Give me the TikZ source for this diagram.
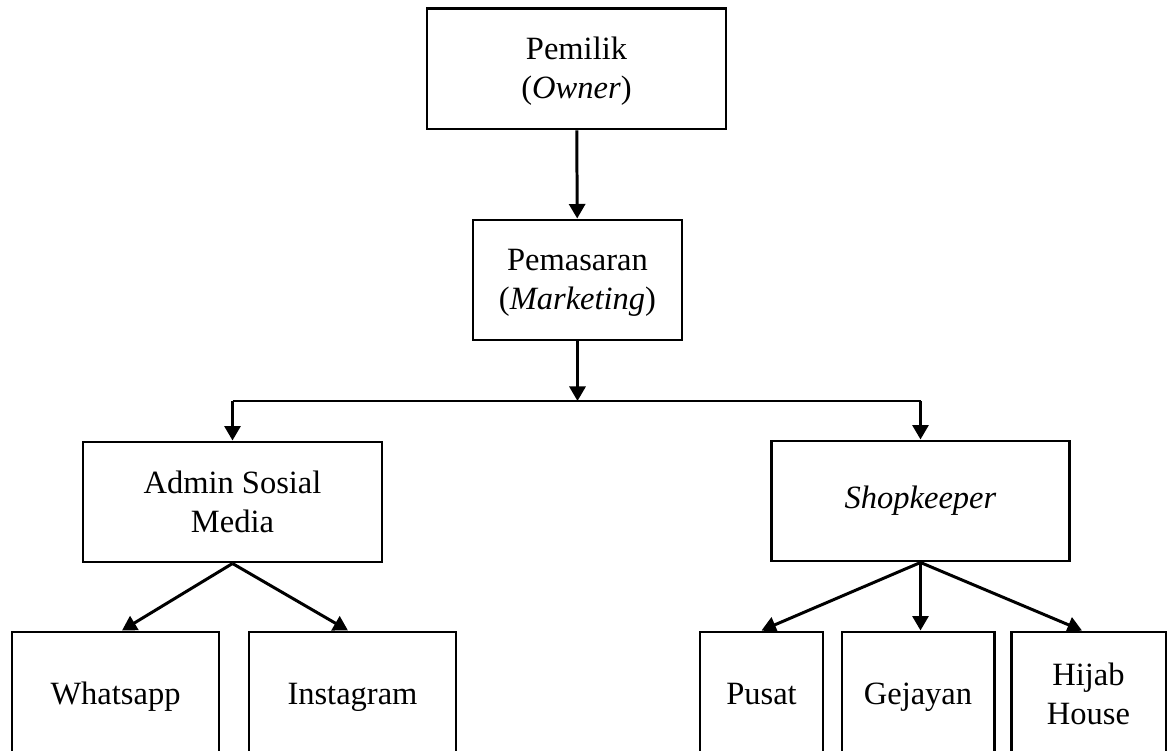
\documentclass[tikz,border=0pt]{standalone}
\usepackage{fontspec}
\setmainfont{Liberation Serif}
\usepackage{tikz}
\usetikzlibrary{arrows.meta,positioning}

\begin{document}
\begin{tikzpicture}[
  unit/.style={draw=black, line width=1.7pt, fill=white, align=center, inner sep=3pt, minimum height=2.4cm, font=\fontsize{18.5}{22}\selectfont},
  leaf/.style={unit, minimum height=2.6cm, text height=12.5pt, text depth=4pt},
  link/.style={draw=black, line width=1.7pt},
  >={Triangle[length=0.29cm, width=0.32cm]}
]
\useasboundingbox (0,0) rectangle (23.34,-15.02);

\node[unit, minimum width=5.98cm] (owner) at (11.53,-1.38) {\strut Pemilik\\(\textit{Owner})};
\node[unit, minimum width=4.18cm] (mkt) at (11.55,-5.6) {\strut Pemasaran\\(\textit{Marketing})};
\node[unit, minimum width=5.98cm] (admin) at (4.65,-10.04) {Admin Sosial\\Media};
\node[unit, minimum width=5.96cm] (shop) at (18.41,-10.02) {\textit{Shopkeeper}};

\node[leaf, minimum width=4.14cm] (wa) at (2.31,-13.94) {Whatsapp};
\node[leaf, minimum width=4.14cm] (ig) at (7.05,-13.94) {Instagram};
\node[leaf, minimum width=2.46cm] (pusat) at (15.23,-13.94) {Pusat};
\node[leaf, minimum width=3.04cm] (gej) at (18.36,-13.94) {Gejayan};
\node[unit, minimum height=2.6cm, minimum width=3.1cm] (hijab) at (21.77,-13.94) {\strut Hijab\\\strut House};

% split below marketing
\coordinate (mid) at (11.55,-8.02);
\coordinate (left) at (4.65,-8.02);
\coordinate (right) at (18.41,-8.02);

\draw[link,->] (owner) -- (mkt);
\draw[link,->] (mkt) -- (mid);
\draw[link] (left) -- (right);
\draw[link,->] (left) -- (admin);
\draw[link,->] (right) -- (shop);

\draw[link,->] (admin.south) -- ([xshift=1.3mm]wa.north);
\draw[link,->] (admin.south) -- ([xshift=-0.9mm]ig.north);
\draw[link,->] (shop.south) -- (pusat.north);
\draw[link,->] (shop.south) -- (shop.south |- gej.north);
\draw[link,->] (shop.south) -- ([xshift=-1.3mm]hijab.north);
\end{tikzpicture}
\end{document}
